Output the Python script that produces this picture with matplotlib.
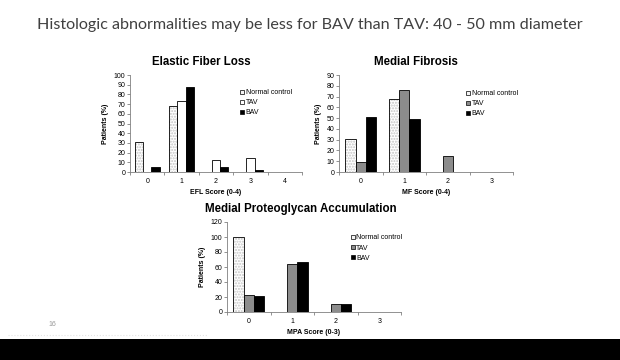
#slide with three grouped bar charts of histologic scores
#normal control / TAV / BAV, patients in percent

import matplotlib
matplotlib.use('Agg')
import matplotlib.pyplot as plt
from matplotlib.lines import Line2D
from matplotlib.patches import Rectangle
import numpy as np

plt.rcParams['font.family'] = ['Liberation Sans', 'DejaVu Sans']

groups = ['Normal control', 'TAV', 'BAV']

efl_scores = ['0', '1', '2', '3', '4']
efl_normal = [31, 68, 0, 0, 0]
efl_tav = [0, 73, 12, 14, 0]
efl_bav = [5, 88, 5, 2, 0]

mf_scores = ['0', '1', '2', '3']
mf_normal = [31, 68, 0, 0]
mf_tav = [9, 76, 15, 0]
mf_bav = [51, 49, 0, 0]

mpa_scores = ['0', '1', '2', '3']
mpa_normal = [100, 0, 0, 0]
mpa_tav = [23, 64, 11, 0]
mpa_bav = [21, 67, 11, 0]

fig = plt.figure(figsize=(6.2, 3.6), dpi=100)
fig.patch.set_facecolor('white')

#slide title and footer
fig.text(0.5, 1 - 25 / 360, 'Histologic abnormalities may be less for BAV than TAV: 40 - 50 mm diameter',
         ha='center', va='center', fontsize=11.6, color='#404040', family=['Lato', 'DejaVu Sans'])
fig.text(52 / 620, 1 - 324 / 360, '16', ha='center', va='center', fontsize=5, color='#999999')
fig.lines.append(Line2D([8 / 620, 207 / 620], [1 - 334.5 / 360] * 2, transform=fig.transFigure,
                        color='#e4e4e4', lw=0.8, ls=':'))
fig.patches.append(Rectangle((0, 0), 1, 21 / 360, transform=fig.transFigure,
                             facecolor='black', edgecolor='none'))


def draw_chart(rect, title, title_x, scores, normal, tav, bav, tav_color, ymax, ystep, xlabel, legend_pos):
    ax = fig.add_axes(rect)
    x = np.arange(len(scores))
    w = 0.24
    # normal control = light dotted fill
    ax.bar(x - w, normal, w, color='white', hatch='......', edgecolor='#c4c4c4', linewidth=0)
    ax.bar(x - w, normal, w, fill=False, edgecolor='black', linewidth=0.6)
    ax.bar(x, tav, w, color=tav_color, edgecolor='black', linewidth=0.6)
    ax.bar(x + w, bav, w, color='black', edgecolor='black', linewidth=0.6)

    ax.set_xlim(-0.5, len(scores) - 0.5)
    ax.set_ylim(0, ymax)
    ax.set_yticks(np.arange(0, ymax + 1, ystep))
    ax.set_xticks(x)
    ax.set_xticklabels(scores)
    ax.set_xticks(np.arange(-0.5, len(scores)), minor=True)
    ax.tick_params(axis='x', which='major', length=0, labelsize=5, pad=4)
    ax.tick_params(axis='x', which='minor', length=2, color='#808080', width=0.6)
    ax.tick_params(axis='y', length=2, color='#808080', width=0.6, labelsize=5, pad=1.5)
    for s in ['top', 'right']:
        ax.spines[s].set_visible(False)
    for s in ['left', 'bottom']:
        ax.spines[s].set_color('#808080')
        ax.spines[s].set_linewidth(0.6)

    # Excel centres the title over the whole chart area, a bit left of the plot
    ax.text(title_x, 1 + 13 / (rect[3] * 360), title, transform=ax.transAxes,
            ha='center', va='center', fontsize=8.3, fontweight='bold')
    ax.set_xlabel(xlabel, fontsize=5, fontweight='bold', labelpad=3)
    ax.set_ylabel('Patients (%)', fontsize=5, fontweight='bold', labelpad=3)

    handles = [Line2D([], [], ls='none', marker='s', markersize=3, mfc='#f4f4f4', mec='black', mew=0.5),
               Line2D([], [], ls='none', marker='s', markersize=3, mfc=tav_color, mec='black', mew=0.5),
               Line2D([], [], ls='none', marker='s', markersize=3, mfc='black', mec='black', mew=0.5)]
    ax.legend(handles, groups, loc='upper left', bbox_to_anchor=legend_pos, frameon=False,
              fontsize=5, handlelength=0.6, handletextpad=0.2, labelspacing=0.45, borderpad=0)
    return ax


draw_chart([130 / 620, 1 - 172 / 360, 172 / 620, 97 / 360], 'Elastic Fiber Loss', 0.413,
           efl_scores, efl_normal, efl_tav, efl_bav, 'white', 100, 10, 'EFL Score (0-4)', (0.62, 0.89))
draw_chart([339 / 620, 1 - 172 / 360, 174 / 620, 97 / 360], 'Medial Fibrosis', 0.443,
           mf_scores, mf_normal, mf_tav, mf_bav, '#8c8c8c', 90, 10, 'MF Score (0-4)', (0.71, 0.88))
draw_chart([227 / 620, 1 - 312 / 360, 174 / 620, 90 / 360], 'Medial Proteoglycan Accumulation', 0.425,
           mpa_scores, mpa_normal, mpa_tav, mpa_bav, '#8c8c8c', 120, 20, 'MPA Score (0-3)', (0.69, 0.9))

fig.savefig('out.png', dpi=100, facecolor='white')
